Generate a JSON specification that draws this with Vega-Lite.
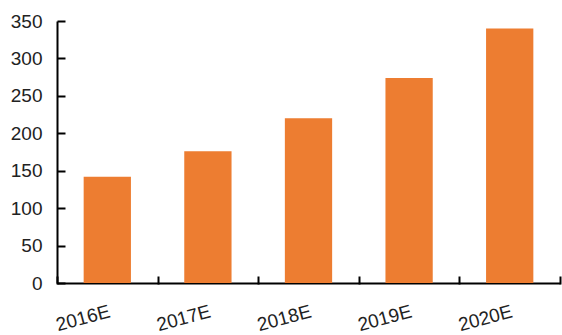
{
  "$schema": "https://vega.github.io/schema/vega-lite/v6.json",
  "width": 503,
  "height": 262,
  "autosize": "none",
  "padding": {"left": 57, "top": 21, "right": 2, "bottom": 52},
  "background": "white",
  "data": {"values": [
    {"year": "2016E", "value": 142},
    {"year": "2017E", "value": 176},
    {"year": "2018E", "value": 220},
    {"year": "2019E", "value": 274},
    {"year": "2020E", "value": 340}
  ]},
  "config": {"view": {"stroke": null}},
  "resolve": {"axis": {"x": "independent", "y": "independent"}, "scale": {"x": "independent"}},
  "layer": [
    {
      "mark": {"type": "bar", "color": "#ED7D31"},
      "encoding": {
        "x": {
          "field": "year", "type": "nominal", "sort": null,
          "scale": {"paddingInner": 0.53, "paddingOuter": 0.265},
          "axis": {
            "title": null, "grid": false, "domainColor": "#000", "domainWidth": 2,
            "ticks": false,
            "labelAngle": -15, "labelFont": "Liberation Sans", "labelFontSize": 19,
            "labelColor": "#222", "labelPadding": 19, "labelAlign": "right", "labelBaseline": "top"
          }
        },
        "y": {
          "field": "value", "type": "quantitative",
          "scale": {"domain": [0, 350], "nice": false},
          "axis": {
            "title": null, "grid": false, "values": [0, 50, 100, 150, 200, 250, 300, 350],
            "domainColor": "#000", "domainWidth": 2, "ticks": false,
            "labelFont": "Liberation Sans", "labelFontSize": 19, "labelColor": "#222",
            "labelPadding": 15
          }
        }
      }
    },
    {
      "mark": {"type": "bar", "opacity": 0},
      "encoding": {
        "x": {
          "field": "year", "type": "nominal", "sort": null,
          "scale": {"paddingInner": 0, "paddingOuter": 0},
          "axis": {
            "orient": "bottom", "offset": -7, "title": null, "grid": false, "domain": false,
            "labels": false, "ticks": true, "tickBand": "extent", "tickColor": "#000", "tickWidth": 2, "tickSize": 8, "zindex": 2
          }
        },
        "y": {
          "field": "value", "type": "quantitative",
          "axis": {
            "orient": "left", "offset": -8, "title": null, "grid": false, "domain": false,
            "labels": false, "ticks": true, "values": [0, 50, 100, 150, 200, 250, 300, 350],
            "tickColor": "#000", "tickWidth": 2, "tickSize": 8, "zindex": 2
          }
        }
      }
    }
  ]
}
